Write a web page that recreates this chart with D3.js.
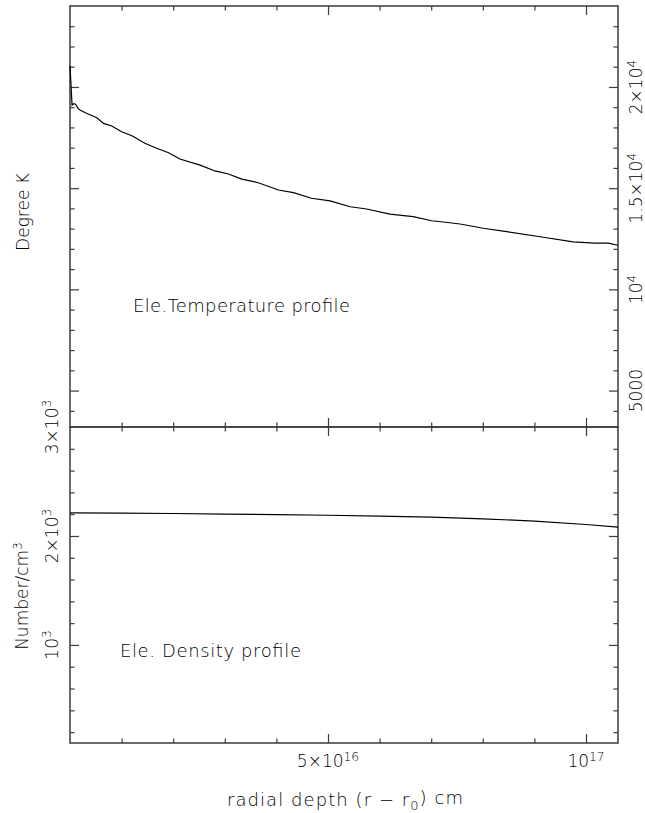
<!DOCTYPE html>
<html>
<head>
<meta charset="utf-8">
<script src="https://cdn.jsdelivr.net/npm/d3@7"></script>
<style>
  html, body { margin: 0; padding: 0; background: #fff; }
  svg text { font-family: "DejaVu Sans", "Liberation Sans", sans-serif; font-weight: 200; fill: #000; }
</style>
</head>
<body>
<svg id="chart" width="645" height="813"></svg>
<script>
// ---- data (x in units of 1e16 cm) ----
const tempDepth = [0, 0.04, 0.07, 0.11, 0.15, 0.19, 0.32, 0.52, 0.65, 0.81, 1.00, 1.20, 1.45, 1.68, 1.91, 2.13, 2.52, 2.81, 3.07, 3.33, 3.62, 4.04, 4.33, 4.68, 5.04, 5.43, 5.75, 6.20, 6.65, 7.01, 7.36, 7.56, 8.01, 8.46, 9.11, 9.75, 10.17, 10.43, 10.62];
const tempValues = [21050, 19100, 19170, 19150, 18960, 18860, 18700, 18480, 18200, 18070, 17790, 17590, 17220, 16970, 16750, 16440, 16140, 15850, 15700, 15450, 15290, 14910, 14780, 14500, 14370, 14080, 13970, 13720, 13590, 13390, 13290, 13230, 13020, 12850, 12600, 12350, 12280, 12280, 12180];

const densDepth = [0, 1, 2, 3, 4, 5, 6, 7, 8, 9, 10, 10.62];
const densValues = [2212, 2210, 2206, 2201, 2196, 2190, 2182, 2172, 2157, 2137, 2105, 2082];

const xMinorTicks = [1, 2, 3, 4, 5, 6, 7, 8, 9, 10];
const xMajorTicks = [5, 10];
const xTickLabels = [["5×10", "16"], ["10", "17"]];

const tMinorTicks = [4000, 5000, 6000, 7000, 8000, 9000, 10000, 11000, 12000, 13000, 14000, 15000, 16000, 17000, 18000, 19000, 20000, 21000, 22000, 23000];
const tMajorTicks = [5000, 10000, 15000, 20000];
const tTickLabels = [["5000", ""], ["10", "4"], ["1.5×10", "4"], ["2×10", "4"]];

const dMinorTicks = [200, 400, 600, 800, 1000, 1200, 1400, 1600, 1800, 2000, 2200, 2400, 2600, 2800];
const dMajorTicks = [1000, 2000, 3000];
const dTickLabels = [["10", "3"], ["2×10", "3"], ["3×10", "3"]];

// ---- layout ----
const L = 70, R = 618, T0 = 6, MID = 427, B = 743;
const svg = d3.select("#chart");

const x = d3.scaleLinear().domain([0, 10.62]).range([L, R]);
const yT = d3.scaleLinear().domain([3200, 24000]).range([MID, T0]);
const yD = d3.scaleLinear().domain([100, 3000]).range([B, MID]);

const frameColor = "#3a3a3a";
const minor = 4.5, major = 9;

function axisGroup(axis, tx, ty) {
  const g = svg.append("g").attr("transform", `translate(${tx},${ty})`).call(axis);
  g.select(".domain").remove();
  g.selectAll("text").remove();
  g.selectAll("line").attr("stroke", frameColor).attr("stroke-width", 1.2);
  return g;
}
function ticks(axisFn, scale, minorVals, majorVals, tx, ty) {
  axisGroup(axisFn(scale).tickValues(minorVals.filter(v => !majorVals.includes(v))).tickSize(-minor).tickFormat(""), tx, ty);
  axisGroup(axisFn(scale).tickValues(majorVals).tickSize(-major).tickFormat(""), tx, ty);
}

// top panel ticks
ticks(d3.axisLeft, yT, tMinorTicks, tMajorTicks, L, 0);
ticks(d3.axisRight, yT, tMinorTicks, tMajorTicks, R, 0);
ticks(d3.axisTop, x, xMinorTicks, xMajorTicks, 0, T0);
ticks(d3.axisBottom, x, xMinorTicks, xMajorTicks, 0, MID);
// bottom panel ticks
ticks(d3.axisLeft, yD, dMinorTicks, dMajorTicks.filter(v => v < 3000), L, 0);
ticks(d3.axisRight, yD, dMinorTicks, dMajorTicks.filter(v => v < 3000), R, 0);
ticks(d3.axisTop, x, xMinorTicks, xMajorTicks, 0, MID);
ticks(d3.axisBottom, x, xMinorTicks, xMajorTicks, 0, B);

// frames
svg.append("rect").attr("x", L).attr("y", T0).attr("width", R - L).attr("height", MID - T0)
  .attr("fill", "none").attr("stroke", frameColor).attr("stroke-width", 1.5);
svg.append("rect").attr("x", L).attr("y", MID).attr("width", R - L).attr("height", B - MID)
  .attr("fill", "none").attr("stroke", frameColor).attr("stroke-width", 1.5);

// curves
const tempData = tempDepth.map((d, i) => [d, tempValues[i]]);
const densData = densDepth.map((d, i) => [d, densValues[i]]);
svg.append("path").datum(tempData)
  .attr("d", d3.line().x(d => x(d[0])).y(d => yT(d[1])))
  .attr("fill", "none").attr("stroke", "#000").attr("stroke-width", 1.2);
svg.append("path").datum(densData)
  .attr("d", d3.line().x(d => x(d[0])).y(d => yD(d[1])))
  .attr("fill", "none").attr("stroke", "#000").attr("stroke-width", 1.2);

const FS = 17;
function supText(sel, base, sup) {
  sel.append("tspan").text(base);
  if (sup) sel.append("tspan").attr("dy", "-0.5em").attr("font-size", FS * 0.72).text(sup);
}

// x tick labels
xMajorTicks.forEach((v, i) => {
  const t = svg.append("text").attr("x", x(v)).attr("y", 767).attr("text-anchor", "middle").attr("font-size", FS);
  supText(t, xTickLabels[i][0], xTickLabels[i][1]);
});
// right labels (top panel)
tMajorTicks.forEach((v, i) => {
  const t = svg.append("text").attr("transform", `translate(642,${yT(v)}) rotate(-90)`)
    .attr("text-anchor", "middle").attr("font-size", FS);
  supText(t, tTickLabels[i][0], tTickLabels[i][1]);
});
// left labels (bottom panel)
dMajorTicks.forEach((v, i) => {
  const t = svg.append("text").attr("transform", `translate(57.5,${yD(v)}) rotate(-90)`)
    .attr("text-anchor", "middle").attr("font-size", FS);
  supText(t, dTickLabels[i][0], dTickLabels[i][1]);
});

// axis titles
svg.append("text").attr("transform", "translate(29,212) rotate(-90)")
  .attr("text-anchor", "middle").attr("font-size", FS).text("Degree K");
const nt = svg.append("text").attr("transform", "translate(28,596) rotate(-90)")
  .attr("text-anchor", "middle").attr("font-size", FS);
supText(nt, "Number/cm", "3");

const xl = svg.append("text").attr("x", 227).attr("y", 806).attr("font-size", 18)
  .attr("textLength", 236).attr("lengthAdjust", "spacing");
xl.append("tspan").text("radial depth (r − r");
xl.append("tspan").attr("dy", "0.3em").attr("font-size", 18 * 0.72).text("0");
xl.append("tspan").attr("dy", "-0.3em").text(") cm");

// panel annotations
svg.append("text").attr("x", 133).attr("y", 312).attr("font-size", 18)
  .attr("textLength", 217).attr("lengthAdjust", "spacing").text("Ele.Temperature profile");
svg.append("text").attr("x", 120).attr("y", 657).attr("font-size", 18)
  .attr("textLength", 181).attr("lengthAdjust", "spacing").text("Ele. Density profile");
</script>
</body>
</html>
